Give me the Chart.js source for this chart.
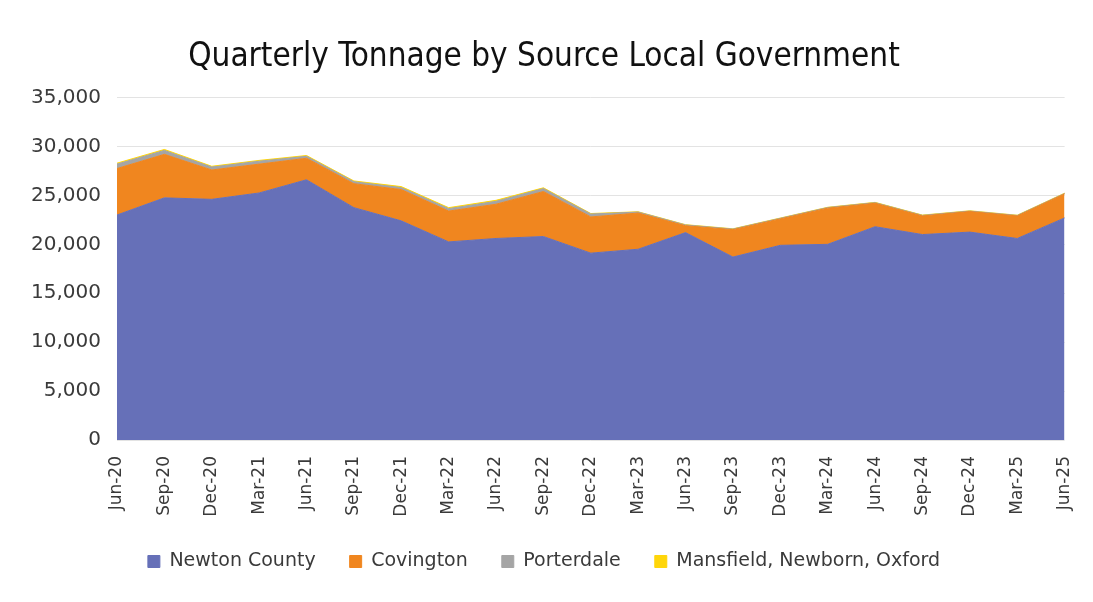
<!DOCTYPE html>
<html>
<head>
<meta charset="utf-8">
<script src="https://cdn.jsdelivr.net/npm/chart.js@4/dist/chart.umd.min.js"></script>
<style>
  html, body { margin: 0; padding: 0; background: #fff; }
  canvas { display: block; }
</style>
</head>
<body>
<canvas id="tonnageChart" width="1093" height="602"></canvas>
<script>
// quarters, Jun-20 .. Jun-25
const quarters = ['Jun-20', 'Sep-20', 'Dec-20', 'Mar-21', 'Jun-21', 'Sep-21', 'Dec-21', 'Mar-22',
    'Jun-22', 'Sep-22', 'Dec-22', 'Mar-23', 'Jun-23', 'Sep-23', 'Dec-23', 'Mar-24',
    'Jun-24', 'Sep-24', 'Dec-24', 'Mar-25', 'Jun-25'];

// tonnage per source (stacked)
const newtonCounty = [23000, 24750, 24600, 25250, 26600, 23750, 22400, 20250, 20600, 20800, 19100,
    19500, 21200, 18700, 19900, 20000, 21800, 21000, 21250, 20600, 22700];
const covington = [4750, 4450, 3000, 2950, 2200, 2450, 3200, 3150, 3500, 4600, 3700,
    3700, 700, 2800, 2700, 3700, 2400, 1900, 2100, 2300, 2450];
const porterdale = [450, 400, 300, 300, 200, 200, 200, 250, 300, 300, 300,
    100, 80, 60, 60, 60, 60, 60, 50, 50, 50];
const mansfieldNewbornOxford = [100, 100, 80, 80, 80, 80, 100, 100, 100, 80, 50,
    30, 30, 30, 30, 30, 30, 30, 30, 30, 30];

const yTicks = [0, 5000, 10000, 15000, 20000, 25000, 30000, 35000];

const textColor = '#3a3a3a';
const bodyFont = "'DejaVu Sans', sans-serif";

function area(label, data, color, fill) {
    return {
        label: label,
        data: data,
        backgroundColor: color,
        borderColor: color,
        borderWidth: 1,
        fill: fill,
        pointRadius: 0,
        tension: 0
    };
}

const ctx = document.getElementById('tonnageChart');
new Chart(ctx, {
    type: 'line',
    data: {
        labels: quarters,
        datasets: [
            area('Newton County', newtonCounty, '#6670b8', 'origin'),
            area('Covington', covington, '#f0861f', '-1'),
            area('Porterdale', porterdale, '#a5a5a5', '-1'),
            area('Mansfield, Newborn, Oxford', mansfieldNewbornOxford, '#ffd60a', '-1')
        ]
    },
    options: {
        responsive: false,
        animation: false,
        devicePixelRatio: 1,
        layout: { padding: { left: 10, right: 15, top: 0, bottom: 21 } },
        plugins: {
            title: {
                display: true,
                text: 'Quarterly Tonnage by Source Local Government',
                color: '#111',
                font: { family: "'DejaVu Sans Condensed', 'Liberation Sans', sans-serif", size: 33, weight: 'normal' },
                padding: { top: 38, bottom: 20 }
            },
            legend: {
                position: 'bottom',
                labels: {
                    color: textColor,
                    font: { family: bodyFont, size: 19 },
                    boxWidth: 12,
                    boxHeight: 12,
                    padding: 34
                }
            },
            tooltip: { enabled: false }
        },
        scales: {
            x: {
                offset: false,
                grid: { display: false },
                border: { display: false },
                ticks: {
                    color: textColor,
                    font: { family: bodyFont, size: 17 },
                    minRotation: 90,
                    maxRotation: 90,
                    autoSkip: false,
                    padding: 8
                },
                afterFit: (scale) => { scale.height = 78; }
            },
            y: {
                stacked: true,
                min: 0,
                max: 35000,
                afterBuildTicks: (scale) => { scale.ticks = yTicks.map(v => ({ value: v })); },
                grid: { color: '#e3e3e3', drawTicks: false },
                border: { display: false },
                ticks: {
                    color: textColor,
                    font: { family: bodyFont, size: 20 },
                    padding: 16,
                    callback: (v) => v.toLocaleString('en-US')
                },
                afterFit: (scale) => { scale.width = 107; }
            }
        }
    }
});
</script>
</body>
</html>
